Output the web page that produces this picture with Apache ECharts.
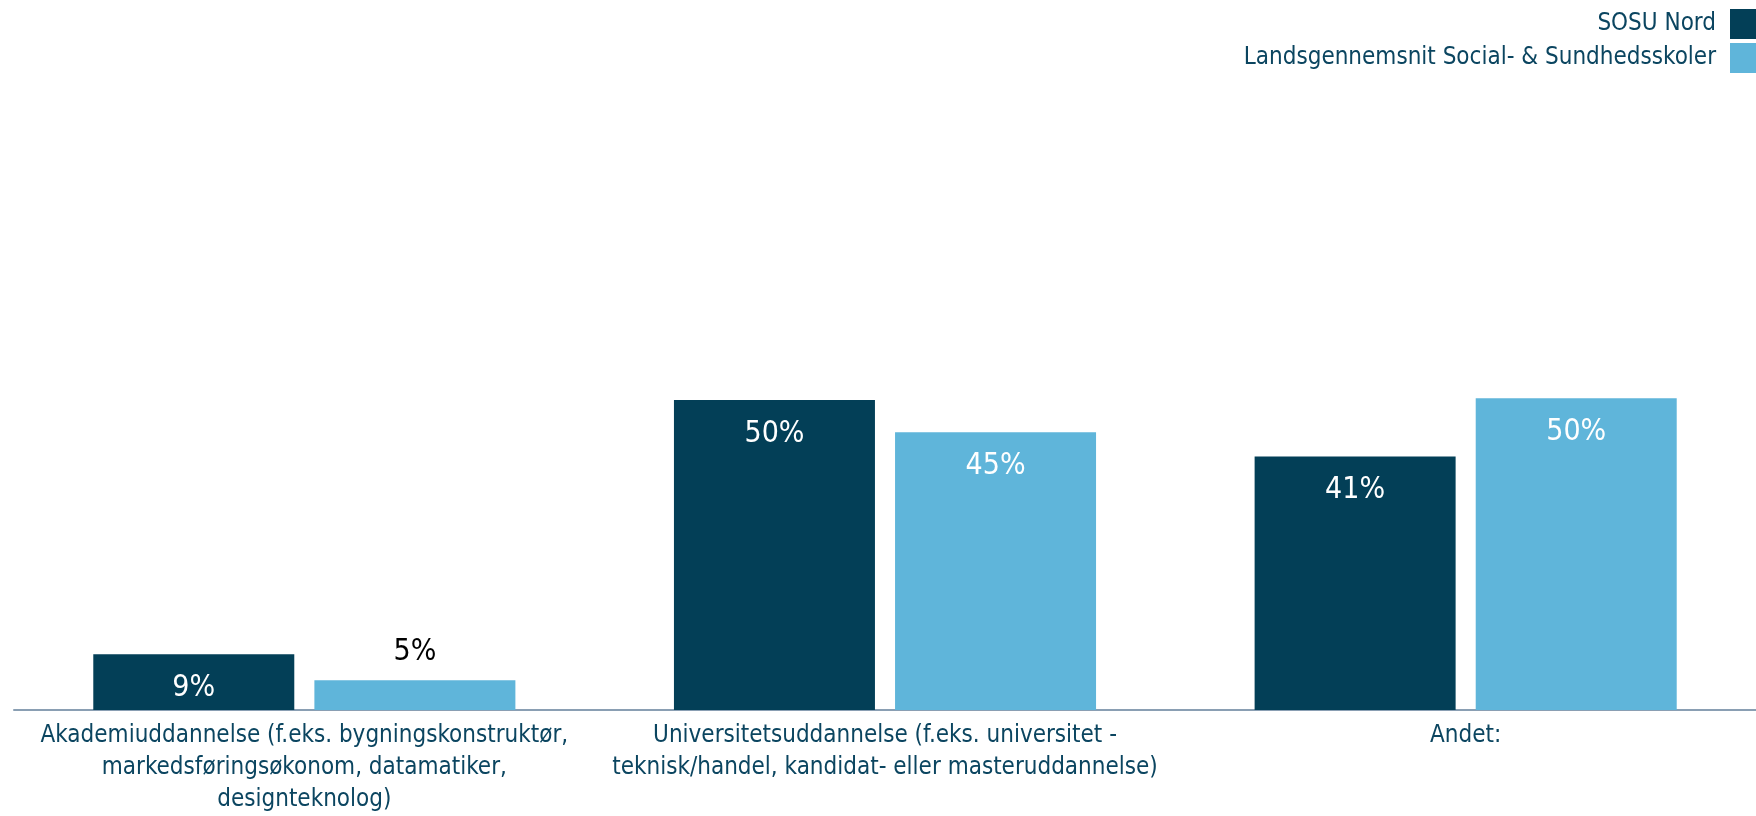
<!DOCTYPE html>
<html>
<head>
<meta charset="utf-8">
<script src="https://cdn.jsdelivr.net/npm/echarts@6/dist/echarts.min.js"></script>
<style>
html,body{margin:0;padding:0;background:#fff;}
#chart{width:1756px;height:816px;}
</style>
</head>
<body>
<div id="chart"></div>
<script>
const categories = [
  "Akademiuddannelse (f.eks. bygningskonstruktør,\nmarkedsføringsøkonom, datamatiker,\ndesignteknolog)",
  "Universitetsuddannelse (f.eks. universitet -\nteknisk/handel, kandidat- eller masteruddannelse)",
  "Andet:"
];
const seriesNames = ["SOSU Nord", "Landsgennemsnit Social- & Sundhedsskoler"];
const sosuNord = [9.0, 50.0, 40.9];
const landsgennemsnit = [4.8, 44.8, 50.3];

function hasFont(name) {
  const ctx = document.createElement("canvas").getContext("2d");
  const sample = "SOSU Nord Andet: 50%";
  ctx.font = "40px monospace";
  const a = ctx.measureText(sample).width;
  ctx.font = '40px "' + name + '", monospace';
  const b = ctx.measureText(sample).width;
  ctx.font = '40px "DejaVu Sans", monospace';
  const c = ctx.measureText(sample).width;
  return b !== a && b !== c;
}

const condensed = hasFont("DejaVu Sans Condensed");
const FONT = condensed ? "DejaVu Sans Condensed" : "DejaVu Sans";
const SIZE_TEXT = condensed ? 24 : 22;
const SIZE_VALUE = condensed ? 30 : 28;
const DARK = "#033f57";
const LIGHT = "#5fb5da";
const TEXT = "#0b4560";

function labelled(values) {
  return values.map(v => {
    if (v < 7) {
      return { value: v, label: { position: "top", distance: 13, color: "#000" } };
    }
    return { value: v };
  });
}

const valueLabel = {
  show: true,
  position: "insideTop",
  distance: 19,
  fontFamily: FONT,
  fontSize: SIZE_VALUE,
  color: "#fff",
  formatter: p => Math.round(p.value) + "%"
};

const chart = echarts.init(document.getElementById("chart"), null, { renderer: "canvas" });
chart.setOption({
  animation: false,
  backgroundColor: "#fff",
  legend: {
    orient: "vertical",
    right: 0,
    top: 9,
    padding: 0,
    align: "right",
    itemWidth: 26,
    itemHeight: 30,
    itemGap: 4,
    icon: "rect",
    data: seriesNames,
    textStyle: { fontFamily: FONT, fontSize: SIZE_TEXT, color: TEXT, padding: [0, 9, 0, 0] }
  },
  grid: { left: 14, right: -6, top: 90, bottom: 101, containLabel: false },
  xAxis: {
    type: "category",
    data: categories,
    axisLine: { show: true, lineStyle: { color: "#8a9fb3", width: 2 } },
    axisTick: { show: false },
    axisLabel: {
      interval: 0,
      fontFamily: FONT,
      fontSize: SIZE_TEXT,
      color: TEXT,
      lineHeight: 32,
      margin: 10
    }
  },
  yAxis: {
    type: "value",
    min: 0,
    max: 100,
    show: false,
    splitLine: { show: false }
  },
  series: [
    {
      name: seriesNames[0],
      type: "bar",
      data: labelled(sosuNord),
      barWidth: 201,
      barGap: "10%",
      itemStyle: { color: DARK },
      label: valueLabel
    },
    {
      name: seriesNames[1],
      type: "bar",
      data: labelled(landsgennemsnit),
      barWidth: 201,
      barGap: "10%",
      itemStyle: { color: LIGHT },
      label: valueLabel
    }
  ]
});
</script>
</body>
</html>
